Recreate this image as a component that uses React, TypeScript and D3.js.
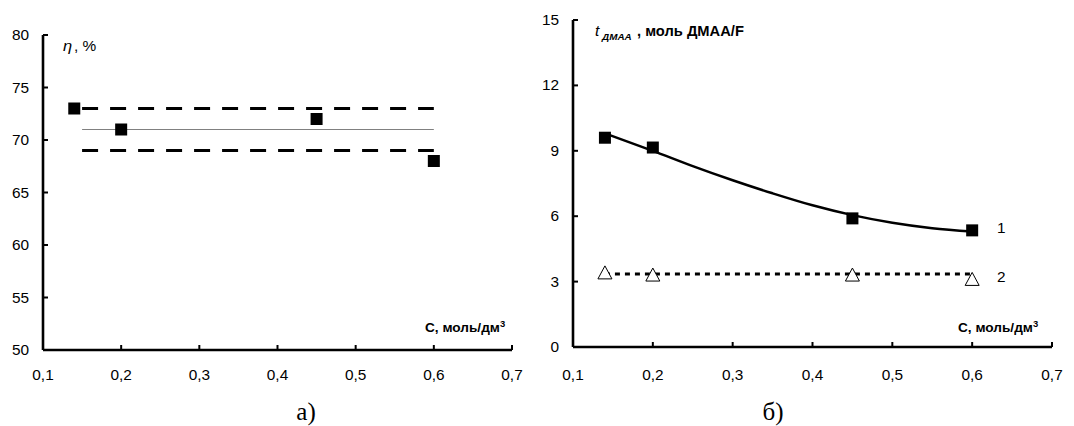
import * as d3 from "d3";

// panel а: yield vs concentration
const ETA_C = [0.14, 0.2, 0.45, 0.6];
const ETA_VALUES = [73, 71, 72, 68];
const ETA_MEAN = 71;
const ETA_LOW = 69;
const ETA_HIGH = 73;
const ETA_SPAN = [0.15, 0.6];
const ETA_TICKS = [50, 55, 60, 65, 70, 75, 80];

// panel б: ДМАА consumption
const T_C = [0.14, 0.2, 0.45, 0.6];
const T_SERIES1 = [9.6, 9.15, 5.9, 5.35];
const T_SERIES2 = [3.4, 3.3, 3.3, 3.1];
const T_TREND_C = [0.14, 0.2, 0.25, 0.3, 0.35, 0.4, 0.45, 0.5, 0.55, 0.6];
const T_TREND = [9.8, 9.0, 8.3, 7.65, 7.05, 6.5, 6.05, 5.7, 5.45, 5.3];
const T_LEVEL2 = 3.35;
const T_TICKS = [0, 3, 6, 9, 12, 15];

const X_TICKS = [0.1, 0.2, 0.3, 0.4, 0.5, 0.6, 0.7];
const fmt = (v: number) => String(v).replace(".", ",");

const FONT = "'Liberation Sans', Arial, sans-serif";
const SERIF = "'Liberation Serif', 'Times New Roman', serif";

const Txt = ({ x, y, size = 14, anchor = "start", weight = "normal", italic = false, sx = 1.1, children }: any) => (
  <text
    transform={`translate(${x},${y}) scale(${sx},1)`}
    fontFamily={FONT}
    fontSize={size}
    fontWeight={weight}
    fontStyle={italic ? "italic" : "normal"}
    textAnchor={anchor}
    fill="#000"
  >
    {children}
  </text>
);

const Axes = ({ x, y, yTicks }: { x: d3.ScaleLinear<number, number>; y: d3.ScaleLinear<number, number>; yTicks: number[] }) => {
  const [x0, x1] = x.range();
  const [y0, y1] = y.range();
  return (
    <g>
      <line x1={x0} x2={x0} y1={y0} y2={y1} stroke="#000" strokeWidth={2.6} />
      <line x1={x0} x2={x1} y1={y0} y2={y0} stroke="#000" strokeWidth={2.6} />
      {yTicks.map((t) => (
        <g key={t}>
          <line x1={x0} x2={x0 + 5} y1={y(t)} y2={y(t)} stroke="#000" strokeWidth={2} />
          <Txt x={x0 - 14} y={y(t) + 5} anchor="end">{t}</Txt>
        </g>
      ))}
      {X_TICKS.map((t) => (
        <g key={t}>
          <line x1={x(t)} x2={x(t)} y1={y0} y2={y0 - 5} stroke="#000" strokeWidth={2} />
          <Txt x={x(t)} y={380} anchor="middle">{fmt(t)}</Txt>
        </g>
      ))}
    </g>
  );
};

const Square = ({ cx, cy }: { cx: number; cy: number }) => (
  <rect x={cx - 6} y={cy - 6} width={12} height={12} fill="#000" />
);

const Triangle = ({ cx, cy }: { cx: number; cy: number }) => (
  <path d={`M${cx},${cy - 7}L${cx + 7},${cy + 6}L${cx - 7},${cy + 6}Z`} fill="#fff" stroke="#000" strokeWidth={1} />
);

export default function App() {
  const xa = d3.scaleLinear().domain([0.1, 0.7]).range([43, 512]);
  const ya = d3.scaleLinear().domain([50, 80]).range([350, 35]);
  const xb = d3.scaleLinear().domain([0.1, 0.7]).range([573, 1052]);
  const yb = d3.scaleLinear().domain([0, 15]).range([347, 20]);

  const trend = d3
    .line<number>()
    .x((_, i) => xb(T_TREND_C[i]))
    .y((d) => yb(d))
    .curve(d3.curveMonotoneX)(T_TREND);

  return (
    <svg width={1074} height={426} style={{ position: "absolute", left: 0, top: 0, background: "#fff" }}>
      {/* panel а */}
      <Axes x={xa} y={ya} yTicks={ETA_TICKS} />
      <line x1={xa(ETA_SPAN[0])} x2={xa(ETA_SPAN[1])} y1={ya(ETA_MEAN)} y2={ya(ETA_MEAN)} stroke="#808080" strokeWidth={1.2} />
      {[ETA_HIGH, ETA_LOW].map((v) => (
        <line key={v} x1={xa(ETA_SPAN[0])} x2={xa(ETA_SPAN[1])} y1={ya(v)} y2={ya(v)} stroke="#000" strokeWidth={3} strokeDasharray="16 12" />
      ))}
      {ETA_C.map((c, i) => (
        <Square key={c} cx={xa(c)} cy={ya(ETA_VALUES[i])} />
      ))}
      <Txt x={63} y={51} size={15} italic>η</Txt>
      <Txt x={74} y={51} size={14}>, %</Txt>
      <Txt x={425} y={332} size={13} weight="bold" sx={1.05}>
        С, моль/дм<tspan fontSize={9} dy={-5}>3</tspan>
      </Txt>
      <text x={306} y={420} fontFamily={SERIF} fontSize={25} textAnchor="middle">а)</text>

      {/* panel б */}
      <Axes x={xb} y={yb} yTicks={T_TICKS} />
      <path d={trend ?? ""} fill="none" stroke="#000" strokeWidth={2.5} />
      <line x1={xb(T_C[0])} x2={xb(T_C[T_C.length - 1])} y1={yb(T_LEVEL2)} y2={yb(T_LEVEL2)} stroke="#000" strokeWidth={3} strokeDasharray="5 5" />
      {T_C.map((c, i) => (
        <Square key={c} cx={xb(c)} cy={yb(T_SERIES1[i])} />
      ))}
      {T_C.map((c, i) => (
        <Triangle key={c} cx={xb(c)} cy={yb(T_SERIES2[i])} />
      ))}
      <Txt x={997} y={233} size={14}>1</Txt>
      <Txt x={997} y={282} size={14}>2</Txt>
      <Txt x={595} y={36} size={14} italic>t</Txt>
      <Txt x={602} y={40} size={9} italic weight="bold">ДМАА</Txt>
      <Txt x={637} y={36} size={14} weight="bold" sx={1.05}>, моль ДМАА/F</Txt>
      <Txt x={958} y={332} size={13} weight="bold" sx={1.05}>
        С, моль/дм<tspan fontSize={9} dy={-5}>3</tspan>
      </Txt>
      <text x={773} y={420} fontFamily={SERIF} fontSize={25} textAnchor="middle">б)</text>
    </svg>
  );
}
